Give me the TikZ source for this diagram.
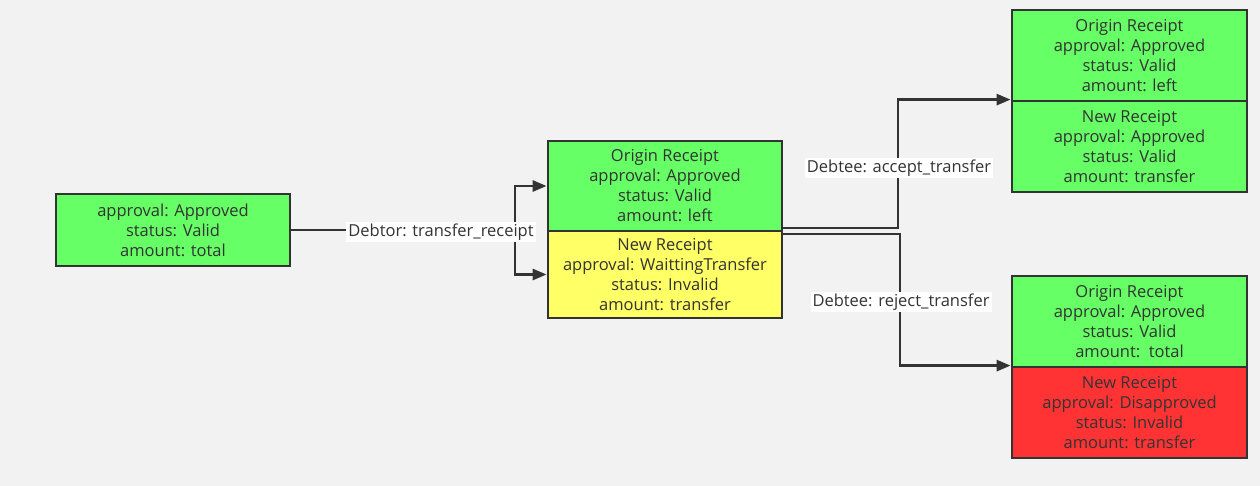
\documentclass[tikz,border=0pt]{standalone}
\usepackage{fontspec}
\setmainfont{Open Sans}
\usetikzlibrary{arrows.meta}
\definecolor{bg}{HTML}{F2F2F2}
\definecolor{ink}{HTML}{333333}
\definecolor{gr}{HTML}{66FF66}
\definecolor{ye}{HTML}{FFFF66}
\definecolor{rd}{HTML}{FF3333}
\tikzset{
  box/.style={draw=ink, line width=2.8pt, minimum width=234pt, inner sep=0pt, align=center,
    text=ink, font=\fontsize{16.5}{20}\selectfont},
  lbl/.style={fill=white, text=ink, inner sep=2pt, font=\fontsize{16.5}{20}\selectfont},
  conn/.style={draw=ink, line width=2.8pt},
  arr/.style={conn, -{Triangle[length=14pt,width=11pt]}},
}
\begin{document}
\begin{tikzpicture}[x=1pt,y=-1pt]
\useasboundingbox[fill=bg] (0,0) rectangle (1260,486);
% boxes
\node[box, fill=gr, minimum height=72pt] (L) at (173,230) {approval: Approved\\status: Valid\\amount: total};
\node[box, fill=gr, minimum height=90pt] (MT) at (665,186) {Origin Receipt\\approval: Approved\\status: Valid\\amount: left};
\node[box, fill=ye, minimum height=87pt] (MB) at (665,274.5) {New Receipt\\approval: WaittingTransfer\\status: Invalid\\amount: transfer};
\node[box, fill=gr, minimum width=235pt, minimum height=91pt] (RA) at (1129.5,55.5) {Origin Receipt\\approval: Approved\\status: Valid\\amount: left};
\node[box, fill=gr, minimum width=235pt, minimum height=91pt] (RB) at (1129.5,146.5) {New Receipt\\approval: Approved\\status: Valid\\amount: transfer};
\node[box, fill=gr, minimum width=235pt, minimum height=91pt] (RC) at (1129.5,321.5) {Origin Receipt\\approval: Approved\\status: Valid\\amount:\ \ total};
\node[box, fill=rd, minimum width=235pt, minimum height=91pt] (RD) at (1129.5,412.5) {New Receipt\\approval: Disapproved\\status: Invalid\\amount: transfer};
% connector points
\coordinate (j1) at (515,230);
\coordinate (s1) at (782,228);
\coordinate (k1) at (898,228);
\coordinate (s2) at (782,234);
\coordinate (k2) at (900,234);
% connectors
\draw[conn] (L.east) -- (j1);
\draw[arr] (j1) |- (MT.west);
\draw[arr] (j1) |- (MB.west);
\draw[arr] (s1) -- (k1) |- (RB.north west);
\draw[arr] (s2) -- (k2) |- (RD.north west);
% labels
\node[lbl] (t1) at (441,232) {Debtor: transfer\_receipt};
\node[lbl] (t2) at (899,168) {Debtee: accept\_transfer};
\node[lbl] (t3) at (901,302) {Debtee: reject\_transfer};
\end{tikzpicture}
\end{document}
